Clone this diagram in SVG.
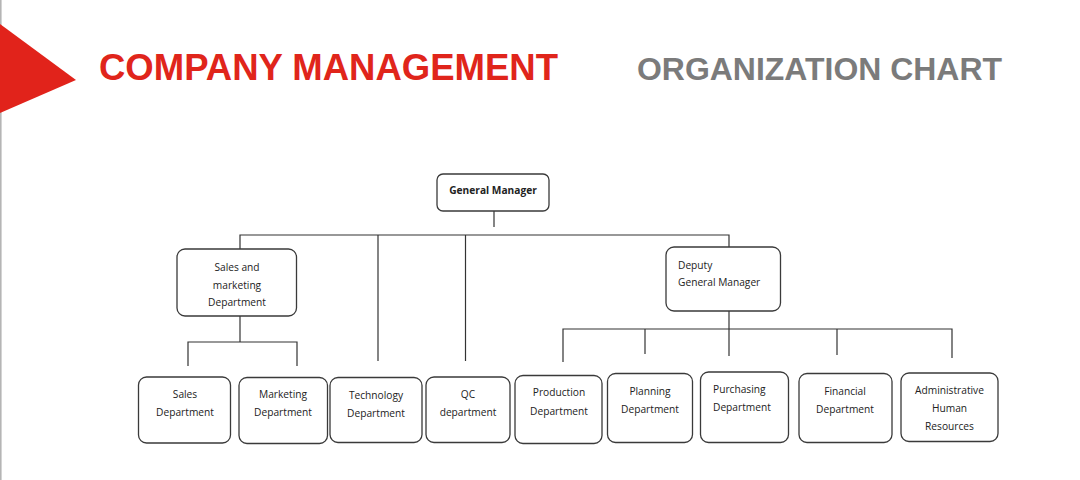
<svg xmlns="http://www.w3.org/2000/svg" width="1080" height="480" viewBox="0 0 1080 480">
<style>
.box{fill:#fff;stroke:#3a3a3a;stroke-width:1.3}
.t{font-family:"Open Sans","Noto Sans",sans-serif;font-size:10.2px;fill:#222;text-anchor:middle}
.tl{font-family:"Open Sans","Noto Sans",sans-serif;font-size:10.2px;fill:#222}
.ln{stroke:#333;stroke-width:1.2;fill:none}
</style>
<rect x="0" y="0" width="1080" height="480" fill="#fff"/>
<line x1="0.8" y1="0" x2="0.8" y2="480" stroke="#b5b5b5" stroke-width="1.6"/>
<polygon points="0,24 76,80 0,113" fill="#e1231b"/>
<text x="99" y="80" font-family="Liberation Sans,Arial,sans-serif" font-weight="bold" font-size="36.5" fill="#e0251b" textLength="459" lengthAdjust="spacingAndGlyphs">COMPANY MANAGEMENT</text>
<text x="637" y="80" font-family="Liberation Sans,Arial,sans-serif" font-weight="bold" font-size="32" fill="#7b7b7b" textLength="365" lengthAdjust="spacingAndGlyphs">ORGANIZATION CHART</text>

<g id="connectors" class="ln">
<line x1="494" y1="211" x2="494" y2="227"/>
<polyline points="240,249 240,235 729,235 729,247"/>
<line x1="378" y1="235" x2="378" y2="361"/>
<line x1="465.5" y1="235" x2="465.5" y2="361"/>
<line x1="240" y1="316" x2="240" y2="342"/>
<polyline points="188,366 188,342 297,342 297,366"/>
<line x1="729" y1="311" x2="729" y2="356"/>
<polyline points="563,362 563,329 952,329 952,358"/>
<line x1="645" y1="329" x2="645" y2="354"/>
<line x1="837" y1="329" x2="837" y2="355"/>
</g>

<g id="general-manager">
<rect class="box" x="437" y="174" width="112" height="37" rx="6"/>
<text class="t" x="493" y="194" font-weight="bold">General Manager</text>
</g>
<g id="sales-marketing">
<rect class="box" x="177" y="249" width="119.5" height="67" rx="8"/>
<text class="t" x="237" y="271">Sales and</text>
<text class="t" x="237" y="288.5">marketing</text>
<text class="t" x="237" y="306">Department</text>
</g>
<g id="deputy">
<rect class="box" x="666" y="247" width="114.5" height="64" rx="8"/>
<text class="tl" x="678" y="268.5" font-size="11.5">Deputy</text>
<text class="tl" x="678" y="285.5">General Manager</text>
</g>
<g id="sales">
<rect class="box" x="138.5" y="377" width="92" height="66" rx="8"/>
<text class="t" x="185" y="398">Sales</text>
<text class="t" x="185" y="416">Department</text>
</g>
<g id="marketing">
<rect class="box" x="239" y="377.5" width="88.5" height="66" rx="8"/>
<text class="t" x="283" y="398">Marketing</text>
<text class="t" x="283" y="416">Department</text>
</g>
<g id="technology">
<rect class="box" x="330" y="377.5" width="92" height="65" rx="8"/>
<text class="t" x="376" y="399">Technology</text>
<text class="t" x="376" y="417">Department</text>
</g>
<g id="qc">
<rect class="box" x="426" y="377" width="84" height="65.5" rx="8"/>
<text class="t" x="468" y="398">QC</text>
<text class="t" x="468" y="416">department</text>
</g>
<g id="production">
<rect class="box" x="515" y="375.5" width="87" height="68" rx="8"/>
<text class="t" x="559" y="396">Production</text>
<text class="t" x="559" y="414.5">Department</text>
</g>
<g id="planning">
<rect class="box" x="607.5" y="373.5" width="85" height="69" rx="8"/>
<text class="t" x="650" y="394.5">Planning</text>
<text class="t" x="650" y="413">Department</text>
</g>
<g id="purchasing">
<rect class="box" x="700.5" y="372" width="88" height="70.5" rx="8"/>
<text class="tl" x="713" y="392.5" font-size="9.6">Purchasing</text>
<text class="tl" x="713" y="410.5" font-size="9.6">Department</text>
</g>
<g id="financial">
<rect class="box" x="799" y="373.5" width="93" height="69" rx="8"/>
<text class="t" x="845" y="395">Financial</text>
<text class="t" x="845" y="413">Department</text>
</g>
<g id="administrative">
<rect class="box" x="901" y="373" width="97" height="68.5" rx="8"/>
<text class="t" x="949.5" y="394">Administrative</text>
<text class="t" x="949.5" y="412">Human</text>
<text class="t" x="949.5" y="430">Resources</text>
</g>
</svg>
